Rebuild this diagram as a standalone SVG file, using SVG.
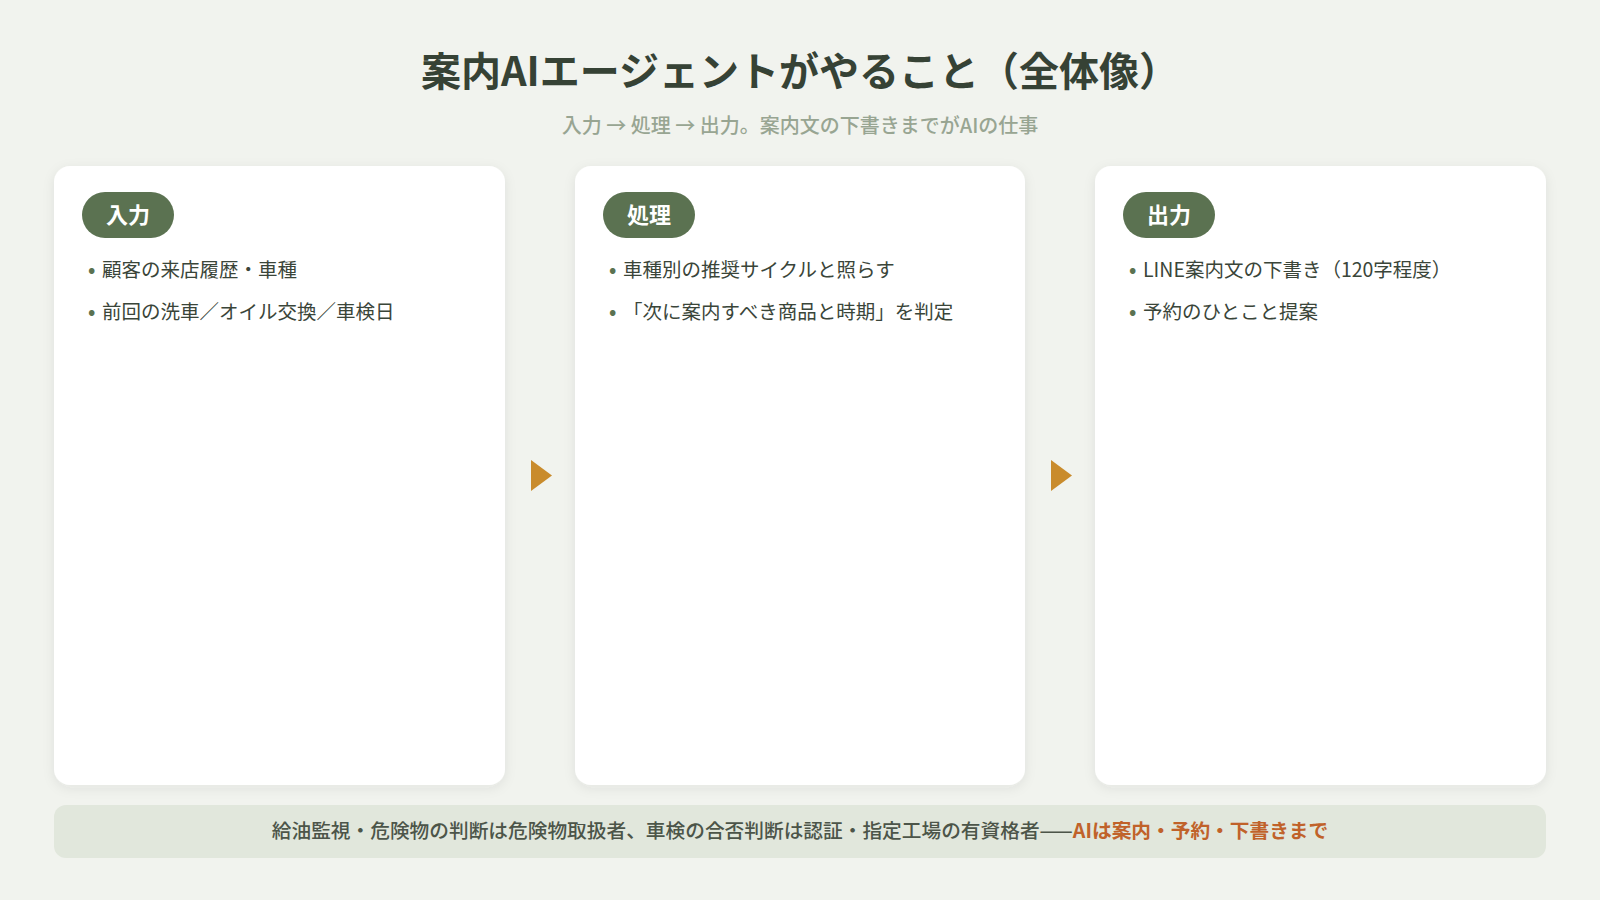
<svg xmlns="http://www.w3.org/2000/svg" width="1600" height="900" viewBox="0 0 1600 900">
<defs>
<filter id="sh" x="-10%" y="-10%" width="120%" height="120%">
<feDropShadow dx="0" dy="3" stdDeviation="6" flood-color="#3a4a38" flood-opacity="0.08"/>
</filter>
<style>
text{font-family:"Noto Sans CJK JP","Noto Sans",sans-serif}
.title{font-size:40px;font-weight:700;fill:#364235}
.sub{font-size:20px;font-weight:500;fill:#98a592}
.card{fill:#ffffff}
.pill{fill:#5b7251}
.pt{font-size:22px;font-weight:700;fill:#ffffff}
.bt{font-size:19.5px;font-weight:400;fill:#3a4539}
.dot{font-size:19.5px;font-weight:700;fill:#5b7251}
.arr{fill:#c98b2c}
.note{font-size:19.7px;font-weight:500;fill:#4c5549}
.hl{font-weight:700;fill:#c0622a}
</style>
</defs>
<rect width="1600" height="900" fill="#f1f3ee"/>
<text class="title" x="800" y="86" text-anchor="middle">案内AIエージェントがやること（全体像）</text>
<text class="sub" x="800" y="133" text-anchor="middle">入力 → 処理 → 出力。案内文の下書きまでがAIの仕事</text>

<g id="node-input">
<rect class="card" x="54" y="166" width="451" height="619" rx="16" filter="url(#sh)"/>
<rect class="pill" x="82" y="192" width="92" height="46" rx="23"/>
<text class="pt" x="128" y="223" text-anchor="middle">入力</text>
<text class="dot" x="88" y="277">•</text><text class="bt" x="102" y="277">顧客の来店履歴・車種</text>
<text class="dot" x="88" y="319">•</text><text class="bt" x="102" y="319">前回の洗車／オイル交換／車検日</text>
</g>

<g id="node-process">
<rect class="card" x="575" y="166" width="450" height="619" rx="16" filter="url(#sh)"/>
<rect class="pill" x="603" y="192" width="92" height="46" rx="23"/>
<text class="pt" x="649" y="223" text-anchor="middle">処理</text>
<text class="dot" x="609" y="277">•</text><text class="bt" x="623" y="277">車種別の推奨サイクルと照らす</text>
<text class="dot" x="609" y="319">•</text><text class="bt" x="623" y="319">「次に案内すべき商品と時期」を判定</text>
</g>

<g id="node-output">
<rect class="card" x="1095" y="166" width="451" height="619" rx="16" filter="url(#sh)"/>
<rect class="pill" x="1123" y="192" width="92" height="46" rx="23"/>
<text class="pt" x="1169" y="223" text-anchor="middle">出力</text>
<text class="dot" x="1129" y="277">•</text><text class="bt" x="1143" y="277">LINE案内文の下書き（120字程度）</text>
<text class="dot" x="1129" y="319">•</text><text class="bt" x="1143" y="319">予約のひとこと提案</text>
</g>

<g id="connectors">
<polygon class="arr" points="531,460 552,475.5 531,491"/>
<polygon class="arr" points="1051,460 1072,475.5 1051,491"/>
</g>

<g id="note">
<rect x="54" y="805" width="1492" height="53" rx="12" fill="#e1e7dc"/>
<text class="note" x="800" y="838" text-anchor="middle">給油監視・危険物の判断は危険物取扱者、車検の合否判断は認証・指定工場の有資格者——<tspan class="hl">AIは案内・予約・下書きまで</tspan></text>
</g>
</svg>
